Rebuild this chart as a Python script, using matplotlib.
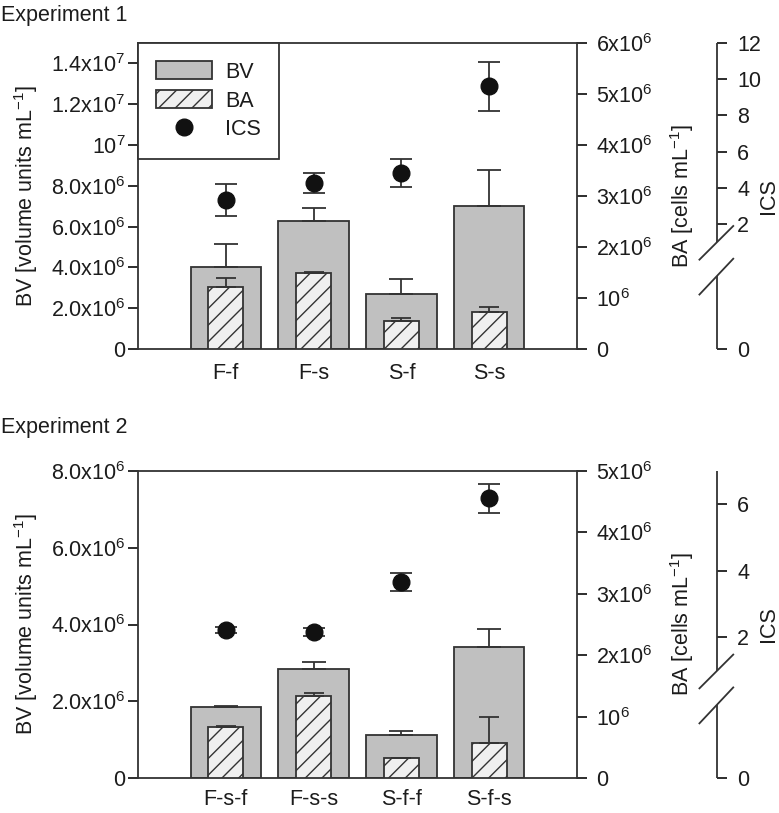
import matplotlib
matplotlib.use('Agg')
import numpy as np
import matplotlib.pyplot as plt
from matplotlib.patches import Patch
from matplotlib.lines import Line2D

plt.rcParams['font.family'] = ['Liberation Sans', 'DejaVu Sans']
plt.rcParams['mathtext.default'] = 'regular'
plt.rcParams['hatch.linewidth'] = 1.0

# ---------------- data ----------------
cats1 = ['F-f', 'F-s', 'S-f', 'S-s']
bv1 = [4.01e6, 6.27e6, 2.68e6, 7.00e6]
bv1_err = [1.13e6, 0.63e6, 0.74e6, 1.76e6]
ba1 = [1.22e6, 1.49e6, 0.55e6, 0.73e6]
ba1_err = [0.17e6, 0.01e6, 0.05e6, 0.10e6]
ics1 = [3.33, 4.27, 4.82, 9.62]
ics1_err = [0.88, 0.55, 0.75, 1.35]

cats2 = ['F-s-f', 'F-s-s', 'S-f-f', 'S-f-s']
bv2 = [1.85e6, 2.84e6, 1.12e6, 3.41e6]
bv2_err = [0.02e6, 0.18e6, 0.10e6, 0.47e6]
ba2 = [0.83e6, 1.34e6, 0.33e6, 0.57e6]
ba2_err = [0.02e6, 0.04e6, 0.0, 0.43e6]
ics2 = [2.21, 2.15, 3.65, 6.18]
ics2_err = [0.10, 0.12, 0.27, 0.44]

bv1_ticks = [0, 2e6, 4e6, 6e6, 8e6, 1e7, 1.2e7, 1.4e7]
bv1_labels = ['0', r'2.0x10$^{6}$', r'4.0x10$^{6}$', r'6.0x10$^{6}$', r'8.0x10$^{6}$',
              r'10$^{7}$', r'1.2x10$^{7}$', r'1.4x10$^{7}$']
ba1_ticks = [0, 1e6, 2e6, 3e6, 4e6, 5e6, 6e6]
ba1_labels = ['0', r'10$^{6}$', r'2x10$^{6}$', r'3x10$^{6}$', r'4x10$^{6}$',
              r'5x10$^{6}$', r'6x10$^{6}$']
ics1_ticks = [2, 4, 6, 8, 10, 12]

bv2_ticks = [0, 2e6, 4e6, 6e6, 8e6]
bv2_labels = ['0', r'2.0x10$^{6}$', r'4.0x10$^{6}$', r'6.0x10$^{6}$', r'8.0x10$^{6}$']
ba2_ticks = [0, 1e6, 2e6, 3e6, 4e6, 5e6]
ba2_labels = ['0', r'10$^{6}$', r'2x10$^{6}$', r'3x10$^{6}$', r'4x10$^{6}$', r'5x10$^{6}$']
ics2_ticks = [2, 4, 6]

# ---------------- style ----------------
TXT = '#1c1c1c'
EDGE = '#333333'
BVC = '#c0c0c0'
BAC = '#f0f0f0'
FS = 15.5
LW = 1.3

W, H = 779, 813
fig = plt.figure(figsize=(W / 100, H / 100), dpi=100)


def fx(px):
    return px / W


def fy(py):
    return 1 - py / H


def panel(top_px, bot_px, cats, bv, bv_err, ba, ba_err, ics, ics_err,
          bv_lim, bv_ticks, bv_labels, ba_lim, ba_ticks, ba_labels,
          ics_lim, ics_ticks, title, title_y, legend, xpad):
    left, right = 138, 577
    ax = fig.add_axes([fx(left), fy(bot_px), (right - left) / W, (bot_px - top_px) / H])
    ax2 = ax.twinx()
    ax3 = ax.twinx()
    x = np.arange(len(cats))

    # BV bars
    ax.bar(x, bv, width=0.8, color=BVC, edgecolor=EDGE, linewidth=LW, zorder=2)
    ax.errorbar(x, bv, yerr=[np.zeros(len(bv)), bv_err], fmt='none', ecolor=EDGE,
                elinewidth=LW, capsize=8.5, capthick=LW, zorder=3)
    ax.set_xlim(-1, 4)
    ax.set_ylim(*bv_lim)
    ax.set_yticks(bv_ticks)
    ax.set_yticklabels(bv_labels)
    ax.set_xticks(x)
    ax.set_xticklabels(cats)
    ax.tick_params(axis='y', direction='out', length=7.5, width=LW, pad=1.5,
                   labelsize=FS, colors=TXT)
    ax.tick_params(axis='x', length=0, pad=xpad, labelsize=FS, colors=TXT)
    for s in ['left', 'top', 'bottom']:
        ax.spines[s].set_linewidth(LW)
        ax.spines[s].set_color(EDGE)
    ax.spines['right'].set_visible(False)

    # BA bars
    ax2.bar(x, ba, width=0.4, color=BAC, edgecolor=EDGE, linewidth=LW, hatch='//', zorder=2)
    ax2.errorbar(x, ba, yerr=[np.zeros(len(ba)), ba_err], fmt='none', ecolor=EDGE,
                 elinewidth=LW, capsize=7.5, capthick=LW, zorder=3)
    ax2.set_ylim(*ba_lim)
    ax2.set_yticks(ba_ticks)
    ax2.set_yticklabels(ba_labels)
    ax2.tick_params(axis='y', direction='out', length=7.5, width=LW, pad=6,
                    labelsize=FS, colors=TXT)
    for s in ['left', 'top', 'bottom']:
        ax2.spines[s].set_visible(False)
    ax2.spines['right'].set_linewidth(LW)
    ax2.spines['right'].set_color(EDGE)

    # ICS points on a broken third axis
    xpos = (717 - left) / (right - left)
    ax3.errorbar(x, ics, yerr=ics_err, fmt='o', color='#111111', markersize=12,
                 ecolor=EDGE, elinewidth=LW, capsize=8, capthick=LW, zorder=4)
    ax3.set_ylim(*ics_lim)
    ax3.spines['right'].set_position(('axes', xpos))
    for s in ['left', 'top', 'bottom', 'right']:
        ax3.spines[s].set_visible(False)
    ax3.set_yticks([ics_lim[0]] + list(ics_ticks))
    ax3.set_yticklabels(['0'] + [str(t) for t in ics_ticks])
    ax3.tick_params(axis='y', direction='out', length=7.5, width=LW, pad=7,
                    labelsize=FS, colors=TXT)
    tr = ax3.transAxes
    dx0, dx1 = -0.04, 0.037
    ax3.add_line(Line2D([xpos, xpos], [0.35, 1.0], transform=tr, color=EDGE,
                        lw=LW, clip_on=False, solid_capstyle='butt'))
    ax3.add_line(Line2D([xpos, xpos], [0.0, 0.237], transform=tr, color=EDGE,
                        lw=LW, clip_on=False, solid_capstyle='butt'))
    ax3.add_line(Line2D([xpos + dx0, xpos + dx1], [0.292, 0.402], transform=tr,
                        color=EDGE, lw=LW, clip_on=False))
    ax3.add_line(Line2D([xpos + dx0, xpos + dx1], [0.178, 0.295], transform=tr,
                        color=EDGE, lw=LW, clip_on=False))

    # labels
    yc = fy((top_px + bot_px) / 2)
    fig.text(fx(26), yc, r'BV [volume units mL$^{-1}$]', rotation=90, ha='center',
             va='center', fontsize=FS, color=TXT)
    fig.text(fx(682), yc, r'BA [cells mL$^{-1}$]', rotation=90, ha='center',
             va='center', fontsize=FS, color=TXT)
    fig.text(fx(768), yc, 'ICS', rotation=90, ha='center', va='center',
             fontsize=FS, color=TXT)
    fig.text(fx(1), fy(title_y), title, ha='left', va='center', fontsize=FS, color=TXT)

    if legend:
        handles = [Patch(facecolor=BVC, edgecolor=EDGE, linewidth=LW),
                   Patch(facecolor=BAC, edgecolor=EDGE, linewidth=LW, hatch='//'),
                   Line2D([], [], marker='o', linestyle='none', color='#111111',
                          markersize=12)]
        leg = ax3.legend(handles, ['BV', 'BA', 'ICS'], loc='upper left',
                         bbox_to_anchor=(0, 1), borderaxespad=0, fancybox=False,
                         framealpha=1, edgecolor=EDGE, fontsize=FS,
                         handlelength=2.6, handleheight=0.9, handletextpad=0.6,
                         labelspacing=0.35, borderpad=0.85)
        leg.get_frame().set_linewidth(LW)
        for t in leg.get_texts():
            t.set_color(TXT)
    return ax


panel(43, 349, cats1, bv1, bv1_err, ba1, ba1_err, ics1, ics1_err,
      (0, 1.5e7), bv1_ticks, bv1_labels, (0, 6e6), ba1_ticks, ba1_labels,
      (-4.9, 12), ics1_ticks, 'Experiment 1', 15, True, 10)
panel(471, 778, cats2, bv2, bv2_err, ba2, ba2_err, ics2, ics2_err,
      (0, 8e6), bv2_ticks, bv2_labels, (0, 5e6), ba2_ticks, ba2_labels,
      (-2.24, 7), ics2_ticks, 'Experiment 2', 427, False, 8)

fig.savefig('out.png', dpi=100)
